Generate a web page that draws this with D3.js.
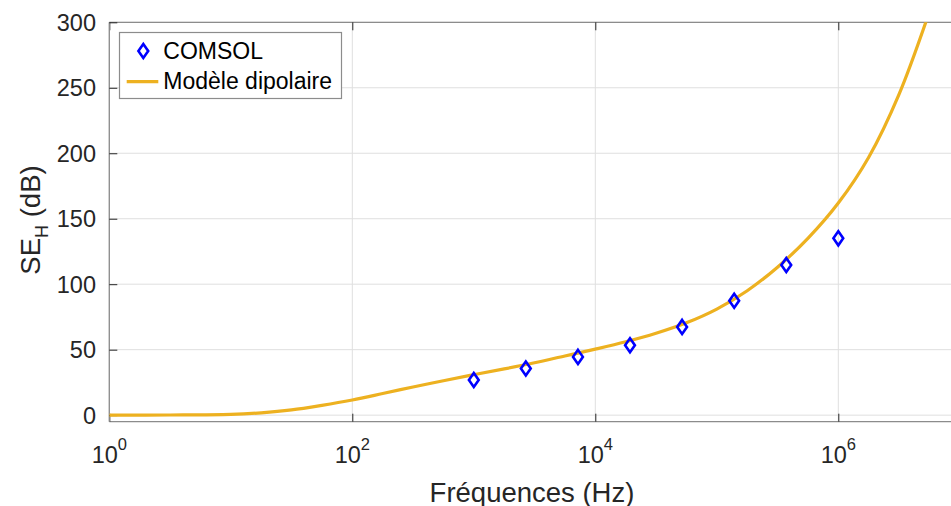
<!DOCTYPE html>
<html>
<head>
<meta charset="utf-8">
<script src="https://cdn.jsdelivr.net/npm/d3@7"></script>
<style>
  html, body { margin: 0; padding: 0; background: #fff; }
  svg text { font-family: "Liberation Sans", Arial, sans-serif; }
</style>
</head>
<body>
<svg id="chart" width="951" height="506"></svg>
<script>
// ---- data ----
const modelFreq = [1e0, 3.16e0, 1e1, 1.78e1, 3.16e1, 5.62e1, 1e2, 1.78e2, 3.16e2, 5.62e2,
  1e3, 1.78e3, 3.16e3, 5.62e3, 1e4, 1.78e4, 3.16e4, 5.62e4, 1e5, 1.78e5, 3.16e5, 5.62e5,
  1e6, 1.78e6, 3.16e6, 5.62e6];
const modelSE = [0, 0.1, 0.6, 1.8, 4.0, 7.5, 11.6, 16.5, 21.5, 26.3, 30.9, 35.3, 40.0, 45.2,
  50.4, 56.0, 62.5, 70.5, 81, 95, 113, 135, 162, 197, 245, 308];
const comsolFreq = [1e3, 2.68e3, 7.20e3, 1.93e4, 5.18e4, 1.39e5, 3.73e5, 1e6];
const comsolSE = [26.8, 35.6, 44.5, 53.4, 67.4, 87.3, 114.6, 135.0];
const xTickExp = [0, 2, 4, 6];
const yTicks = [0, 50, 100, 150, 200, 250, 300];
const seriesNames = ["COMSOL", "Modèle dipolaire"];

(function () {
// ---- layout ----
const pL = 109.3, pR = 959.8, pT = 22.3, pB = 421.7;
const svg = d3.select("#chart");
const x = d3.scaleLog().domain([1, 1e7]).range([pL, pR]);
const y = d3.scaleLinear().domain([-5, 300]).range([pB, pT]);

const axisCol = "#262626";
const gridCol = "#dfdfdf";

svg.append("defs").append("clipPath").attr("id", "clip")
  .append("rect").attr("x", pL).attr("y", pT).attr("width", pR - pL).attr("height", pB - pT);

// grid
const grid = svg.append("g");
grid.selectAll("line.gx").data(xTickExp).enter().append("line")
  .attr("x1", d => x(Math.pow(10, d))).attr("x2", d => x(Math.pow(10, d)))
  .attr("y1", pT).attr("y2", pB).attr("stroke", gridCol).attr("stroke-width", 1);
grid.selectAll("line.gy").data(yTicks).enter().append("line")
  .attr("x1", pL).attr("x2", pR)
  .attr("y1", d => y(d)).attr("y2", d => y(d)).attr("stroke", gridCol).attr("stroke-width", 1);

// axes via d3
const xAxisB = d3.axisBottom(x).tickValues(xTickExp.map(e => Math.pow(10, e))).tickSize(-8).tickFormat("");
const xAxisT = d3.axisTop(x).tickValues(xTickExp.map(e => Math.pow(10, e))).tickSize(-8).tickFormat("");
const yAxisL = d3.axisLeft(y).tickValues(yTicks).tickSize(-8).tickFormat("");
const gB = svg.append("g").attr("transform", `translate(0,${pB})`).call(xAxisB);
const gT = svg.append("g").attr("transform", `translate(0,${pT})`).call(xAxisT);
const gL = svg.append("g").attr("transform", `translate(${pL},0)`).call(yAxisL);
[gB, gT, gL].forEach(g => {
  g.select(".domain").attr("stroke", "#8c8c8c").attr("stroke-width", 1.3);
  g.selectAll(".tick line").attr("stroke", axisCol).attr("stroke-width", 1);
});
gB.select(".domain").attr("d", `M${pL},0H${pR}`);
gT.select(".domain").attr("d", `M${pL},0H${pR}`);
gL.select(".domain").attr("d", `M0,${pT}V${pB}`);

// x tick labels 10^n
const xl = svg.append("g");
xTickExp.forEach(e => {
  const t = xl.append("text").attr("x", x(Math.pow(10, e))).attr("y", 463.3)
    .attr("text-anchor", "middle").attr("fill", axisCol).attr("font-size", 23.5);
  t.append("tspan").text("10");
  t.append("tspan").attr("dy", -13.5).attr("font-size", 16.5).text(String(e));
});
// y tick labels
svg.append("g").selectAll("text").data(yTicks).enter().append("text")
  .attr("x", 96).attr("y", d => y(d)).attr("dy", "0.36em")
  .attr("text-anchor", "end").attr("fill", axisCol).attr("font-size", 23.5)
  .text(d => d);

// axis labels
svg.append("text").attr("x", 532).attr("y", 501.5).attr("text-anchor", "middle")
  .attr("fill", axisCol).attr("font-size", 27.5).text("Fréquences (Hz)");
const yl = svg.append("text").attr("transform", "translate(40,220) rotate(-90)")
  .attr("text-anchor", "middle").attr("fill", axisCol).attr("font-size", 27.5);
yl.append("tspan").text("SE");
yl.append("tspan").attr("dy", 8).attr("font-size", 18).text("H");
yl.append("tspan").attr("dy", -8).text(" (dB)");

// model line
const lineGen = d3.line().x((d, i) => x(modelFreq[i])).y(d => y(d)).curve(d3.curveCatmullRom.alpha(0.5));
svg.append("path").datum(modelSE).attr("clip-path", "url(#clip)")
  .attr("d", lineGen).attr("fill", "none").attr("stroke", "#EDB120").attr("stroke-width", 3.2);

// COMSOL diamonds
const hw = 4.9, hh = 7.0;
const diamond = `M0,${-hh}L${hw},0L0,${hh}L${-hw},0Z`;
svg.append("g").selectAll("path").data(comsolSE).enter().append("path")
  .attr("transform", (d, i) => `translate(${x(comsolFreq[i])},${y(d)})`)
  .attr("d", diamond).attr("fill", "none").attr("stroke", "#0000FF").attr("stroke-width", 2.6);

// legend
const lg = svg.append("g");
lg.append("rect").attr("x", 119.5).attr("y", 32.5).attr("width", 222).attr("height", 66)
  .attr("fill", "#fff").attr("stroke", "#8c8c8c").attr("stroke-width", 1.2);
lg.append("path").attr("transform", "translate(143.3,51)").attr("d", diamond)
  .attr("fill", "none").attr("stroke", "#0000FF").attr("stroke-width", 2.6);
lg.append("line").attr("x1", 126.7).attr("x2", 158.3).attr("y1", 81.7).attr("y2", 81.7)
  .attr("stroke", "#EDB120").attr("stroke-width", 3.2);
lg.append("text").attr("x", 163.3).attr("y", 58.5).attr("font-size", 23).attr("fill", "#000").text(seriesNames[0]);
lg.append("text").attr("x", 163.3).attr("y", 89.3).attr("font-size", 23).attr("fill", "#000").text(seriesNames[1]);
})();
</script>
</body>
</html>
